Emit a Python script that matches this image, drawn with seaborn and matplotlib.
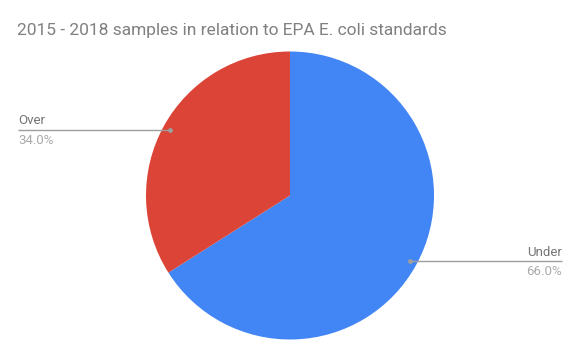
import numpy as np
import matplotlib
import matplotlib.pyplot as plt
import seaborn as sns

categories = ['Under', 'Over']
shares = [66.0, 34.0]
colors = ['#4285F4', '#DB4437']
title = '2015 - 2018 samples in relation to EPA E. coli standards'

sns.set_style('white')
plt.rcParams['font.family'] = ['Roboto', 'DejaVu Sans']

W, H = 580, 359
fig = plt.figure(figsize=(W / 100, H / 100), dpi=100)
ax = fig.add_axes([0, 0, 1, 1])

cx, cy, r = 290, H - 195.5, 144
wedges, _ = ax.pie(shares, colors=colors, startangle=90, counterclock=False,
                   center=(cx, cy), radius=r, frame=True,
                   wedgeprops=dict(linewidth=0))
ax.set_xlim(0, W)
ax.set_ylim(0, H)
ax.set_aspect('equal')
ax.axis('off')

# leader lines and labels
for w, name, val in zip(wedges, categories, shares):
    mid = np.deg2rad((w.theta1 + w.theta2) / 2)
    dx, dy = cx + 0.95 * r * np.cos(mid), cy + 0.95 * r * np.sin(mid)
    if np.cos(mid) < 0:
        x_end, ha = 18, 'left'
    else:
        x_end, ha = 562, 'right'
    ax.plot([dx, x_end], [dy, dy], color='#9e9e9e', lw=1, solid_capstyle='butt')
    ax.plot(dx, dy, 'o', color='#9e9e9e', ms=3.5, mec='none')
    ax.text(x_end, dy + 2.5, name, ha=ha, va='bottom', fontsize=9.5, color='#757575')
    ax.text(x_end, dy - 4, f'{val:.1f}%', ha=ha, va='top', fontsize=9.5, color='#aaaaaa')

ax.text(17, H - 31, title, ha='left', va='center', fontsize=12.5, color='#808080')

fig.savefig('out.png', dpi=100)
